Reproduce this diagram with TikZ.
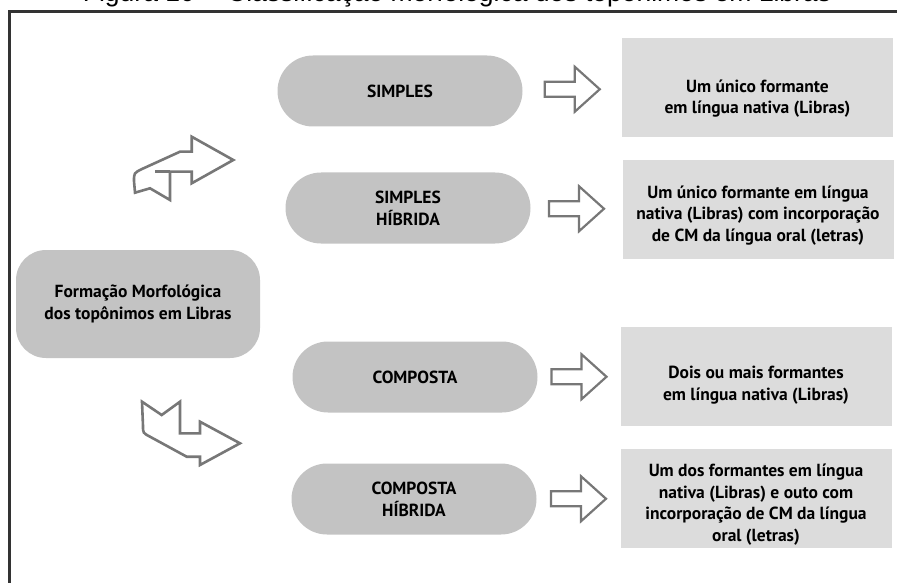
\documentclass[tikz,border=0pt]{standalone}
\usepackage{fontspec}
\setmainfont{PT Sans}
\newfontfamily\captionfont{Liberation Sans}
\usepackage{xcolor}
\usepackage{tikz}
\usetikzlibrary{positioning}
\definecolor{pillgray}{HTML}{C3C3C3}
\definecolor{boxgray}{HTML}{DCDCDC}
\definecolor{arrowgray}{HTML}{777777}
\tikzstyle{every node}=[inner sep=0pt,outer sep=0pt]
\tikzstyle{pill}=[fill=pillgray,rounded corners=35.5pt,minimum width=245pt,minimum height=71pt,align=center,font=\fontsize{17.5}{22}\bfseries]
\tikzstyle{desc}=[fill=boxgray,minimum width=271pt,minimum height=99pt]
\tikzstyle{desctext}=[align=center,font=\fontsize{17.5}{21.7}\bfseries]
\tikzstyle{hollow}=[draw=arrowgray,line width=2.6pt,fill=white,line join=miter]
\tikzset{blockarrow/.pic={\draw[hollow,line width=2.2pt] (-27.5,-7.5) -- (2.5,-7.5) -- (2.5,-22.5) -- (27.5,0) -- (2.5,22.5) -- (2.5,7.5) -- (-27.5,7.5) -- cycle;}}

\begin{document}
\begin{tikzpicture}[x=1pt,y=-1pt]
		\useasboundingbox (0,0) rectangle (897,583);
		\clip (0,0) rectangle (897,583);
		\node[anchor=base,font=\captionfont\fontsize{26.5}{30}\selectfont] (title) at (457,2) {Figura 10 -- Classificação morfológica dos topônimos em Libras};
		\draw[line width=2.4pt,black!80] (9.5,620) -- (9.5,11.5) -- (930,11.5);
		\node[pill,rounded corners=30pt,minimum width=244pt,minimum height=108pt] (main) at (138,304) {Formação Morfológica\\dos topônimos em Libras};
		\node[pill] (simples) at (400,91) {SIMPLES};
		\node[pill] (simpleshib) at (408,208) {SIMPLES\\HÍBRIDA};
		\node[pill] (composta) at (415,377) {COMPOSTA};
		\node[pill] (compostahib) at (414,499) {COMPOSTA\\HÍBRIDA};
		\node[desc] (d1) at (757.5,87.5) {};
		\node[desc] (d2) at (758,209.5) {};
		\node[desc] (d3) at (756,376.5) {};
		\node[desc] (d4) at (756,498.5) {};
		\node[desctext] (t1) at ([yshift=-11pt]d1.center) {Um único formante\\em língua nativa (Libras)};
		\node[desctext] (t2) at ([yshift=-6pt]d2.center) {Um único formante em língua\\nativa (Libras) com incorporação\\de CM da língua oral (letras)};
		\node[desctext] (t3) at ([yshift=-9pt]d3.center) {Dois ou mais formantes\\em língua nativa (Libras)};
		\node[desctext] (t4) at ([yshift=-6pt]d4.center) {Um dos formantes em língua\\nativa (Libras) e outo com\\incorporação de CM da língua\\oral (letras)};
		\path (simples.east) -- coordinate[midway] (a1) (d1.west);
		\path (simpleshib.east) -- coordinate[midway] (a2) (d2.west);
		\path (composta.east) -- coordinate[midway] (a3) (d3.west);
		\path (compostahib.east) -- coordinate[midway] (a4) (d4.west);
		\pic at (a1) {blockarrow};
		\pic at (a2) {blockarrow};
		\pic at (a3) {blockarrow};
		\pic at (a4) {blockarrow};
		\draw[hollow] (233.3,160) -- (191.7,136.7) -- (191.7,151.7) -- (180,151.7) -- (142,169) .. controls (134,173) .. (134,181) -- (135,192.7) -- (150,188.3) -- (170,200) -- (170,171.7) -- (191.7,171.7) -- (191.7,183.3) -- cycle;
		\draw[hollow] (155,171.7) -- (170,171.7);
		\draw[hollow] (142,401.7) -- (143,426) .. controls (143,433) .. (150,436.7) -- (186.7,456.7) -- (200,456.7) -- (200,465) -- (240,443.3) -- (200,421.7) -- (200,433.3) -- (180,433.3) -- (180,401.7) -- (161.7,415) -- cycle;
\end{tikzpicture}
\end{document}
